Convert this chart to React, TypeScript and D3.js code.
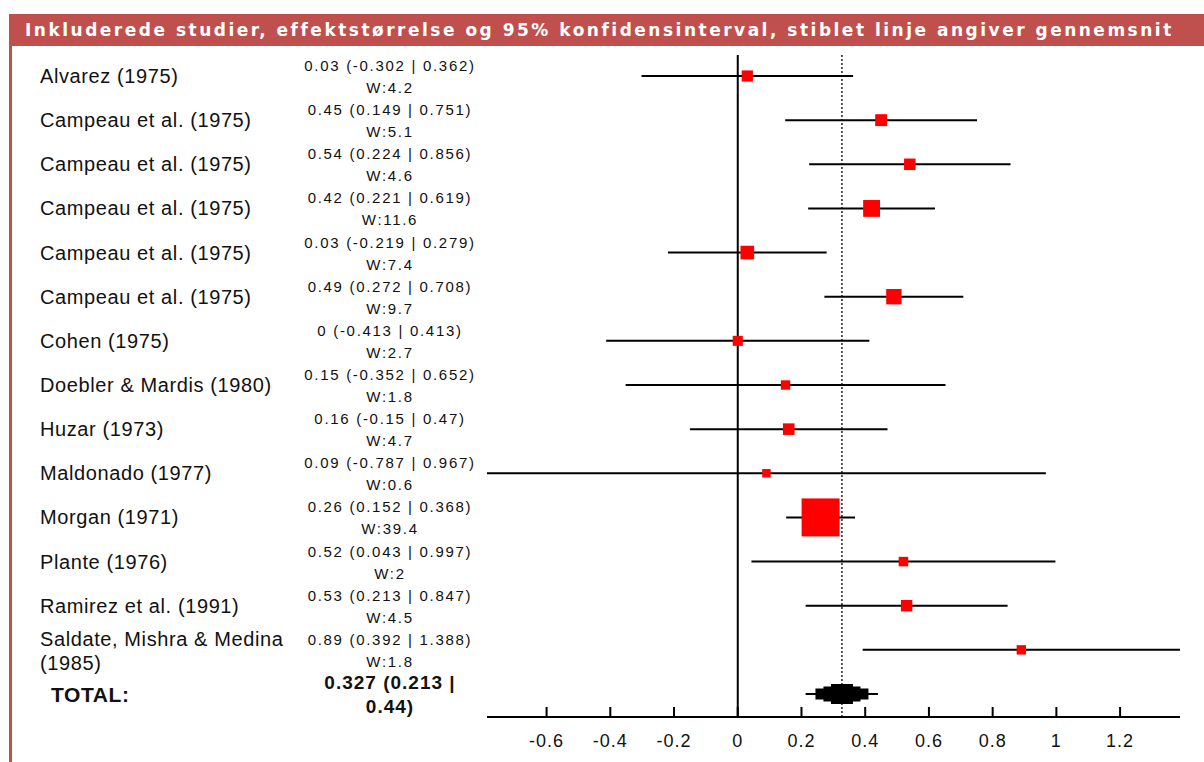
import React from "react";
import * as d3 from "d3";

const title =
  "Inkluderede studier, effektstørrelse og 95% konfidensinterval, stiblet linje angiver gennemsnit";

const studies = [
  "Alvarez (1975)",
  "Campeau et al. (1975)",
  "Campeau et al. (1975)",
  "Campeau et al. (1975)",
  "Campeau et al. (1975)",
  "Campeau et al. (1975)",
  "Cohen (1975)",
  "Doebler & Mardis (1980)",
  "Huzar (1973)",
  "Maldonado (1977)",
  "Morgan (1971)",
  "Plante (1976)",
  "Ramirez et al. (1991)",
  "Saldate, Mishra & Medina (1985)",
];
const effects = [0.03, 0.45, 0.54, 0.42, 0.03, 0.49, 0, 0.15, 0.16, 0.09, 0.26, 0.52, 0.53, 0.89];
const lowers = [-0.302, 0.149, 0.224, 0.221, -0.219, 0.272, -0.413, -0.352, -0.15, -0.787, 0.152, 0.043, 0.213, 0.392];
const uppers = [0.362, 0.751, 0.856, 0.619, 0.279, 0.708, 0.413, 0.652, 0.47, 0.967, 0.368, 0.997, 0.847, 1.388];
const weights = [4.2, 5.1, 4.6, 11.6, 7.4, 9.7, 2.7, 1.8, 4.7, 0.6, 39.4, 2, 4.5, 1.8];

const totalLabel = "TOTAL:";
const totalEffect = 0.327;
const totalLower = 0.213;
const totalUpper = 0.44;

const tickValues = [-0.6, -0.4, -0.2, 0, 0.2, 0.4, 0.6, 0.8, 1, 1.2];

const WIDTH = 1204;
const HEIGHT = 762;
const FONT = "'Liberation Sans', Arial, sans-serif";
const TITLE_FONT = "'DejaVu Sans', Verdana, sans-serif";
const HEADER_RED = "#C0504D";

function wrapText(s: string, maxChars: number): string[] {
  const words = s.split(" ");
  const lines: string[] = [];
  let cur = "";
  for (const w of words) {
    const next = cur ? cur + " " + w : w;
    if (next.length > maxChars && cur) {
      lines.push(cur);
      cur = w;
    } else cur = next;
  }
  if (cur) lines.push(cur);
  return lines;
}

export default function App() {
  const x = d3
    .scaleLinear()
    .domain([d3.min(lowers) as number, d3.max(uppers) as number])
    .range([487, 1180]);
  const keys = [...studies.map((_, i) => String(i)), "total"];
  const y = d3.scalePoint<string>().domain(keys).range([76, 694]);
  const size = d3
    .scaleLinear()
    .domain([0, d3.max(weights) as number])
    .range([8, 38]);

  const axisY = 717;
  const plotTop = (y("0") as number) - 21;
  const valueX = 390;
  const totalY = y("total") as number;
  const cx = x(totalEffect);

  const totalText = wrapText(`${totalEffect} (${totalLower} | ${totalUpper})`, 14);

  return (
    <svg
      width={WIDTH}
      height={HEIGHT}
      style={{ position: "absolute", left: 0, top: 0, background: "#fff" }}
      fontFamily={FONT}
    >
      {/* header */}
      <rect x={9} y={14} width={WIDTH - 9} height={32} fill={HEADER_RED} />
      <rect x={9} y={46} width={3} height={HEIGHT - 46} fill={HEADER_RED} />
      <text
        x={25}
        y={36}
        fill="#fff"
        fontFamily={TITLE_FONT}
        fontWeight="bold"
        fontSize={17}
        letterSpacing={2.5}
      >
        {title}
      </text>

      {/* reference lines */}
      <line x1={x(0)} x2={x(0)} y1={plotTop} y2={axisY} stroke="#000" strokeWidth={2} />
      <line
        x1={cx}
        x2={cx}
        y1={plotTop}
        y2={axisY}
        stroke="#000"
        strokeWidth={1.3}
        strokeDasharray="2,2"
      />

      {/* studies */}
      {studies.map((name, i) => {
        const yy = y(String(i)) as number;
        const lines = wrapText(name, 25);
        const s = size(weights[i]);
        return (
          <g key={i}>
            <text fontSize={20} letterSpacing={0.6} fill="#111">
              {lines.map((ln, j) => (
                <tspan
                  key={j}
                  x={40}
                  y={lines.length === 1 ? yy + 7 : yy - 4 + j * 24}
                >
                  {ln}
                </tspan>
              ))}
            </text>
            <text fontSize={15} letterSpacing={1.7} textAnchor="middle" fill="#111">
              <tspan x={valueX} y={yy - 5}>{`${effects[i]} (${lowers[i]} | ${uppers[i]})`}</tspan>
              <tspan x={valueX} y={yy + 17}>{`W:${weights[i]}`}</tspan>
            </text>
            <line x1={x(lowers[i])} x2={x(uppers[i])} y1={yy} y2={yy} stroke="#000" strokeWidth={2} />
            <rect x={x(effects[i]) - s / 2} y={yy - s / 2} width={s} height={s} fill="#FF0000" />
          </g>
        );
      })}

      {/* total */}
      <text x={51} y={totalY + 8} fontSize={21} fontWeight="bold" letterSpacing={0.6} fill="#111">
        {totalLabel}
      </text>
      <text fontSize={19} fontWeight="bold" letterSpacing={1} textAnchor="middle" fill="#111">
        {totalText.map((ln, j) => (
          <tspan key={j} x={valueX} y={totalY - 5 + j * 24}>
            {ln}
          </tspan>
        ))}
      </text>
      <line x1={x(totalLower)} x2={x(totalUpper)} y1={totalY} y2={totalY} stroke="#000" strokeWidth={2} />
      {[
        [53, 11],
        [37, 15],
        [22, 20],
      ].map(([w, h], k) => (
        <rect key={k} x={cx - w / 2} y={totalY - h / 2} width={w} height={h} fill="#000" />
      ))}

      {/* axis */}
      <line x1={x.range()[0]} x2={x.range()[1]} y1={axisY} y2={axisY} stroke="#000" strokeWidth={2} />
      {tickValues.map((t) => (
        <g key={t}>
          <line x1={x(t)} x2={x(t)} y1={axisY - 10} y2={axisY} stroke="#000" strokeWidth={2} />
          <text
            x={x(t)}
            y={axisY + 30}
            fontSize={18}
            letterSpacing={1}
            textAnchor="middle"
            fill="#111"
          >
            {String(t)}
          </text>
        </g>
      ))}
    </svg>
  );
}
